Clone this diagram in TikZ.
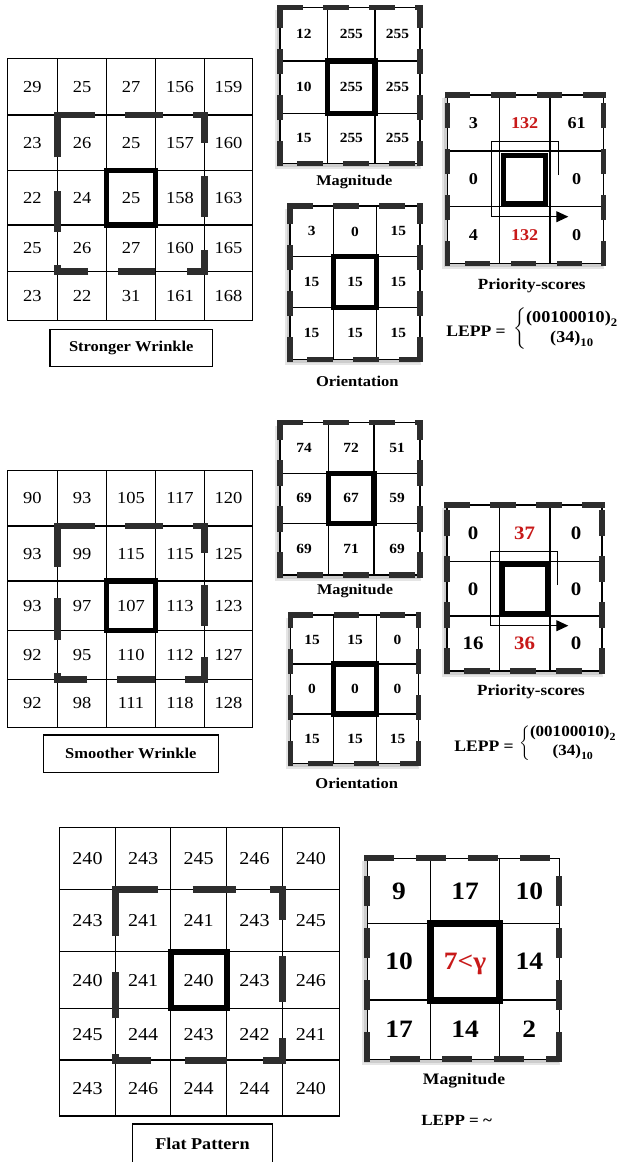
\documentclass[tikz,border=0pt]{standalone}
\usepackage{amsmath}
\usepackage{fontspec}
\setmainfont{Liberation Serif}[FakeStretch=1.1]
\usetikzlibrary{arrows.meta}
\definecolor{wedgec}{RGB}{45,45,45}
\definecolor{redn}{RGB}{200,25,25}
\newcommand\rtxt[1]{\textcolor{redn}{#1}}
\newcommand\fsz[1]{\fontsize{#1}{#1}\selectfont}

% 3x3 grid: #1 name, #2 x-lines, #3 y-lines, #4 node style, #5 rows
\newcommand\tgrid[5]{%
  \pgfmathsetmacro\gxa{{#2}[0]}\pgfmathsetmacro\gxb{{#2}[1]}%
  \pgfmathsetmacro\gxc{{#2}[2]}\pgfmathsetmacro\gxd{{#2}[3]}%
  \pgfmathsetmacro\gya{{#3}[0]}\pgfmathsetmacro\gyb{{#3}[1]}%
  \pgfmathsetmacro\gyc{{#3}[2]}\pgfmathsetmacro\gyd{{#3}[3]}%
  \pgfmathsetmacro\gca{(\gxa+\gxb)/2}\pgfmathsetmacro\gcb{(\gxb+\gxc)/2}\pgfmathsetmacro\gcc{(\gxc+\gxd)/2}%
  \pgfmathsetmacro\gra{(\gya+\gyb)/2}\pgfmathsetmacro\grb{(\gyb+\gyc)/2}\pgfmathsetmacro\grc{(\gyc+\gyd)/2}%
  \fill[black,opacity=.10] (\gxa-5,\gya+3) rectangle (\gxd+1,\gyd+6);
  \fill[black,opacity=.10] (\gxa-3,\gya+2) rectangle (\gxd,\gyd+4);
  \fill[white] (\gxa,\gya) rectangle (\gxd,\gyd);
  \draw[gridline] (\gxa,\gya) rectangle (\gxd,\gyd);
  \draw[gridline] (\gxb,\gya) -- (\gxb,\gyd) (\gxc,\gya) -- (\gxc,\gyd)
                  (\gxa,\gyb) -- (\gxd,\gyb) (\gxa,\gyc) -- (\gxd,\gyc);
  \draw[dashside] (\gxa,\gya) -- (\gxd,\gya);
  \draw[dashside] (\gxd,\gyd) -- (\gxd,\gya);
  \draw[dashside,dash phase=26pt] (\gxa,\gyd) -- (\gxd,\gyd);
  \draw[dashside] (\gxa,\gyd) -- (\gxa,\gya);
  \foreach \row [count=\r] in {#5}{%
    \pgfmathsetmacro\cy{{\gra,\grb,\grc}[\r-1]}%
    \foreach \v [count=\c] in \row {%
      \pgfmathsetmacro\cx{{\gca,\gcb,\gcc}[\c-1]}%
      \node[#4] (#1-\r-\c) at (\cx,\cy) {\v};
    }
  }%
}

% 5x5 numbers: #1 name, #2 x centres, #3 y centres, #4 style, #5 rows
\newcommand\fivenums[5]{%
  \foreach \row [count=\r] in {#5}{%
    \pgfmathsetmacro\cy{{#3}[\r-1]}%
    \foreach \v [count=\c] in \row {%
      \pgfmathsetmacro\cx{{#2}[\c-1]}%
      \node[#4] (#1-\r-\c) at (\cx,\cy) {\v};
    }
  }%
}

\begin{document}
\begin{tikzpicture}[x=1pt,y=-1pt,
  gridline/.style={line width=1.4pt, black, line cap=rect},
  centerbox/.style={line width=5.5pt, black, line join=miter},
  wedge/.style={line width=6.5pt, wedgec, line join=miter, line cap=butt},
  dashside/.style={line width=5.5pt, wedgec, line cap=rect, dash pattern=on 20pt off 26pt},
  numf/.style={font={\fsz{#1}}, inner sep=0pt, text depth=0pt},
  numb/.style={font={\bfseries\fsz{#1}}, inner sep=0pt, text depth=0pt},
  lbl/.style={font={\bfseries\fsz{#1}}, inner sep=0pt, text depth=0pt},
  labelbox/.style={draw, line width=1.3pt, inner sep=0pt, font={\bfseries\fsz{15}}},
  arrowpath/.style={line width=1pt, -{Triangle[length=12pt,width=11pt]}}
]
\useasboundingbox (0,0) rectangle (622,1162);
\fill[white] (0,0) rectangle (622,1162);

% ================= Stronger Wrinkle =================
\foreach \xx in {57.3,106.7,155.3,204.7} \draw[gridline] (\xx,58.3) -- (\xx,320.7);
\foreach \yy in {115,170.7,225,271.7} \draw[gridline] (7.3,\yy) -- (252.3,\yy);
\draw[gridline] (7.3,58.3) rectangle (252.3,320.7);
\fivenums{sw}{32.3,82,131,180,228.5}{86.7,142.9,197.9,248.4,296.2}{numf=16.8}
  {{29,25,27,156,159},{23,26,25,157,160},{22,24,25,158,163},{25,26,27,160,165},{23,22,31,161,168}}
\draw[centerbox] (106.7,170.7) rectangle (155.3,225);
\draw[wedge] (57.3,157.3) -- (57.3,115) -- (95,115);
\draw[wedge] (125,115) -- (163.3,115);
\draw[wedge] (193,115) -- (204.7,115) -- (204.7,142.7);
\draw[wedge] (204.7,176) -- (204.7,216.7);
\draw[wedge] (204.7,250) -- (204.7,271.7) -- (186.7,271.7);
\draw[wedge] (155,271.7) -- (118.3,271.7);
\draw[wedge] (88.3,271.7) -- (57.3,271.7) -- (57.3,265);
\draw[wedge] (57.3,231.7) -- (57.3,190.7);
\node[labelbox, minimum width=162.7pt, minimum height=37.4pt] (swlab) at (131.3,348) {Stronger Wrinkle};

\tgrid{m1}{280,327.7,375,420}{7.3,61,113.3,163.3}{numb=14}{{12,255,255},{10,255,255},{15,255,255}}
\draw[centerbox] (327.7,61) rectangle (375,113.3);
\node[lbl=14.8] (m1lab) at (354.3,180) {Magnitude};

\tgrid{o1}{290,333.3,376.7,420}{206,256.7,307.3,359.3}{numb=14}{{3,0,15},{15,15,15},{15,15,15}}
\draw[centerbox] (333.3,256.7) rectangle (376.7,307.3);
\node[lbl=15] (o1lab) at (357.3,381.7) {Orientation};

\tgrid{p1}{447.3,499.3,550,603.3}{95,151,206.7,263.3}{numb=16.5}{{3,\rtxt{132},61},{0,{},0},{4,\rtxt{132},0}}
\draw[centerbox] (503.5,155.5) rectangle (545.5,204);
\coordinate (p1s) at (558.3,175);
\coordinate (p1a) at (558.3,141.7);
\coordinate (p1b) at (491.7,141.7);
\coordinate (p1c) at (491.7,216.7);
\coordinate (p1e) at (568.3,216.7);
\draw[arrowpath] (p1s) -- (p1a) -- (p1b) -- (p1c) -- (p1e);
\node[lbl=15.5] (p1lab) at (531.7,284) {Priority-scores};

\node[lbl=16] (l1) at (476,331.7) {LEPP =};
\node[anchor=west, inner sep=0pt, font={\bfseries\fsz{16.5}}] (l1v) at (513,329)
  {$\left\{\begin{array}{@{}c@{}}\text{(00100010)}_{\text{2}}\\[3pt]\text{(34)}_{\text{10}}\end{array}\right.$};

% ================= Smoother Wrinkle =================
\foreach \xx in {57.3,106.7,155.3,204.7} \draw[gridline] (\xx,470.7) -- (\xx,727.3);
\foreach \yy in {526,581,630.7,679.3} \draw[gridline] (7.3,\yy) -- (252.3,\yy);
\draw[gridline] (7.3,470.7) rectangle (252.3,727.3);
\fivenums{smw}{32.3,82,131,180,228.5}{498.4,553.5,605.9,655,703.3}{numf=16.8}
  {{90,93,105,117,120},{93,99,115,115,125},{93,97,107,113,123},{92,95,110,112,127},{92,98,111,118,128}}
\draw[centerbox] (106.7,581) rectangle (155.3,630.7);
\draw[wedge] (57.3,566.7) -- (57.3,526) -- (95,526);
\draw[wedge] (125,526) -- (163.3,526);
\draw[wedge] (193,526) -- (204.7,526) -- (204.7,552.7);
\draw[wedge] (204.7,585) -- (204.7,626);
\draw[wedge] (204.7,657.3) -- (204.7,679.3) -- (185,679.3);
\draw[wedge] (155,679.3) -- (116.7,679.3);
\draw[wedge] (87.3,679.3) -- (57.3,679.3) -- (57.3,673);
\draw[wedge] (57.3,640) -- (57.3,598.3);
\node[labelbox, minimum width=175pt, minimum height=37.7pt] (smwlab) at (130.8,753.9) {Smoother Wrinkle};

\tgrid{m2}{280,328.3,374,420}{422.7,473.3,523.3,575}{numb=14}{{74,72,51},{69,67,59},{69,71,69}}
\draw[centerbox] (328.3,473.3) rectangle (374,523.3);
\node[lbl=14.8] (m2lab) at (355,589.3) {Magnitude};

\tgrid{o2}{290.7,333.3,376.7,418.3}{615,664,714,763.3}{numb=14}{{15,15,0},{0,0,0},{15,15,15}}
\draw[centerbox] (333.3,664) rectangle (376.7,714);
\node[lbl=15] (o2lab) at (356.7,783.3) {Orientation};

\tgrid{p2}{447,499.3,550,602}{505,561.5,616,671}{numb=19}{{0,\rtxt{37},0},{0,{},0},{16,\rtxt{36},0}}
\draw[centerbox] (502,564.3) rectangle (547.3,613.3);
\coordinate (p2s) at (557.3,585);
\coordinate (p2a) at (557.3,551.7);
\coordinate (p2b) at (490.7,551.7);
\coordinate (p2c) at (490.7,625.7);
\coordinate (p2e) at (568.3,625.7);
\draw[arrowpath] (p2s) -- (p2a) -- (p2b) -- (p2c) -- (p2e);
\node[lbl=15.5] (p2lab) at (531,690) {Priority-scores};

\node[lbl=16] (l2) at (484,746) {LEPP =};
\node[anchor=west, inner sep=0pt, font={\bfseries\fsz{15.5}}] (l2v) at (519,743)
  {$\left\{\begin{array}{@{}c@{}}\text{(00100010)}_{\text{2}}\\[3pt]\text{(34)}_{\text{10}}\end{array}\right.$};

% ================= Flat Pattern =================
\foreach \xx in {115.7,170.7,226.7,282.3} \draw[gridline] (\xx,827.3) -- (\xx,1116);
\foreach \yy in {889.3,951.7,1008.3,1060} \draw[gridline] (59.3,\yy) -- (339.3,\yy);
\draw[gridline] (59.3,827.3) rectangle (339.3,1116);
\fivenums{fp}{87.5,143.2,198.7,254.5,310.8}{858.3,920.5,980,1034.2,1088}{numf=18.2}
  {{240,243,245,246,240},{243,241,241,243,245},{240,241,240,243,246},{245,244,243,242,241},{243,246,244,244,240}}
\draw[centerbox, line width=6pt] (170.7,951.7) rectangle (226.7,1008.3);
\begin{scope}[wedge/.append style={line width=7pt}]
\draw[wedge] (115.7,936) -- (115.7,889.3) -- (158.3,889.3);
\draw[wedge] (192.7,889.3) -- (236,889.3);
\draw[wedge] (270,889.3) -- (282.3,889.3) -- (282.3,920);
\draw[wedge] (282.3,956) -- (282.3,1001.7);
\draw[wedge] (282.3,1038.3) -- (282.3,1060) -- (262.7,1060);
\draw[wedge] (226.7,1060) -- (185,1060);
\draw[wedge] (150.7,1060) -- (115.7,1060) -- (115.7,1054);
\draw[wedge] (115.7,1018.3) -- (115.7,971.7);
\end{scope}
\node[labelbox, font={\bfseries\fsz{16.5}}, minimum width=140.4pt, minimum height=40pt] (fplab) at (202.5,1144) {Flat Pattern};

\begin{scope}[dashside/.style={line width=6pt, wedgec, line cap=rect, dash pattern=on 24pt off 28pt}]
\tgrid{m3}{367.3,430.7,499.3,559.3}{858.3,923.3,1000,1059.3}{numb=25}{{9,17,10},{10,\rtxt{7<γ},14},{17,14,2}}
\end{scope}
\draw[centerbox, line width=7pt] (430.7,923.3) rectangle (499.3,1000);
\node[lbl=16] (m3lab) at (464,1079.3) {Magnitude};
\node[lbl=15.5] (l3) at (456.7,1120) {LEPP = \textasciitilde};
\end{tikzpicture}
\end{document}
